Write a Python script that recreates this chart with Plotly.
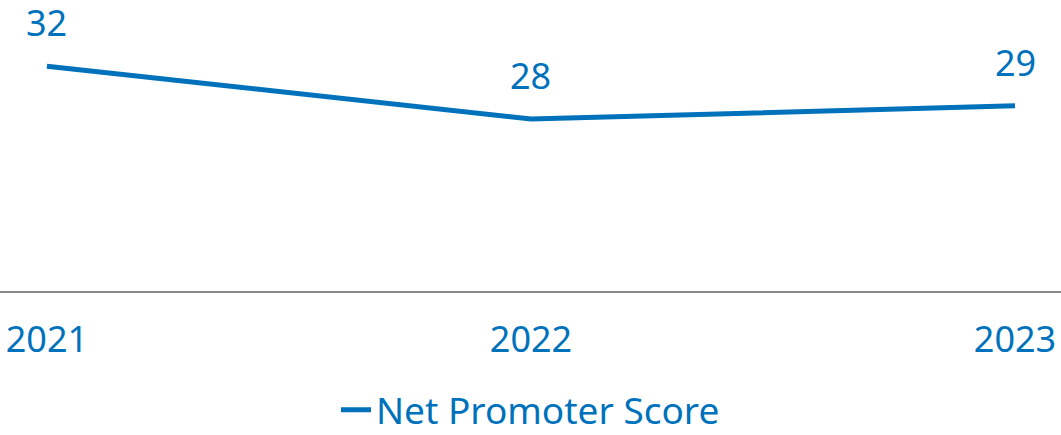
import plotly.graph_objects as go

years = [2021, 2022, 2023]
nps = [32, 28, 29]
series_name = "Net Promoter Score"

blue = "#0072BC"
font_family = "Noto Sans"

fig = go.Figure()
fig.add_trace(go.Scatter(
    x=years, y=nps, mode="lines", name=series_name,
    line=dict(color=blue, width=5),
    cliponaxis=False,
))

for xv, yv in zip(years, nps):
    fig.add_annotation(
        x=xv, y=yv, text=str(yv), showarrow=False,
        yanchor="bottom", yshift=17,
        font=dict(family=font_family, size=36, color=blue),
    )

fig.update_layout(
    width=1061, height=435,
    margin=dict(l=0, r=0, t=0, b=144, autoexpand=False),
    paper_bgcolor="white", plot_bgcolor="white",
    showlegend=True,
    legend=dict(
        orientation="h", x=0.5, xanchor="center", y=-0.41, yanchor="middle",
        font=dict(family=font_family, size=37, color=blue),
    ),
    xaxis=dict(
        range=[2020.903, 2023.095],
        tickvals=years, ticktext=[str(y) for y in years],
        showgrid=False, zeroline=False, automargin=False,
        showline=True, linecolor="#8a8a8a", linewidth=2,
        ticks="", ticklabelstandoff=16,
        tickfont=dict(family=font_family, size=36, color=blue),
    ),
    yaxis=dict(
        range=[15, 37], visible=False, showgrid=False, zeroline=False,
        automargin=False,
    ),
)

fig.write_html(
    "out.html",
    config={"displayModeBar": False},
    post_script="document.body.style.margin='0';document.body.style.overflow='hidden';",
)
